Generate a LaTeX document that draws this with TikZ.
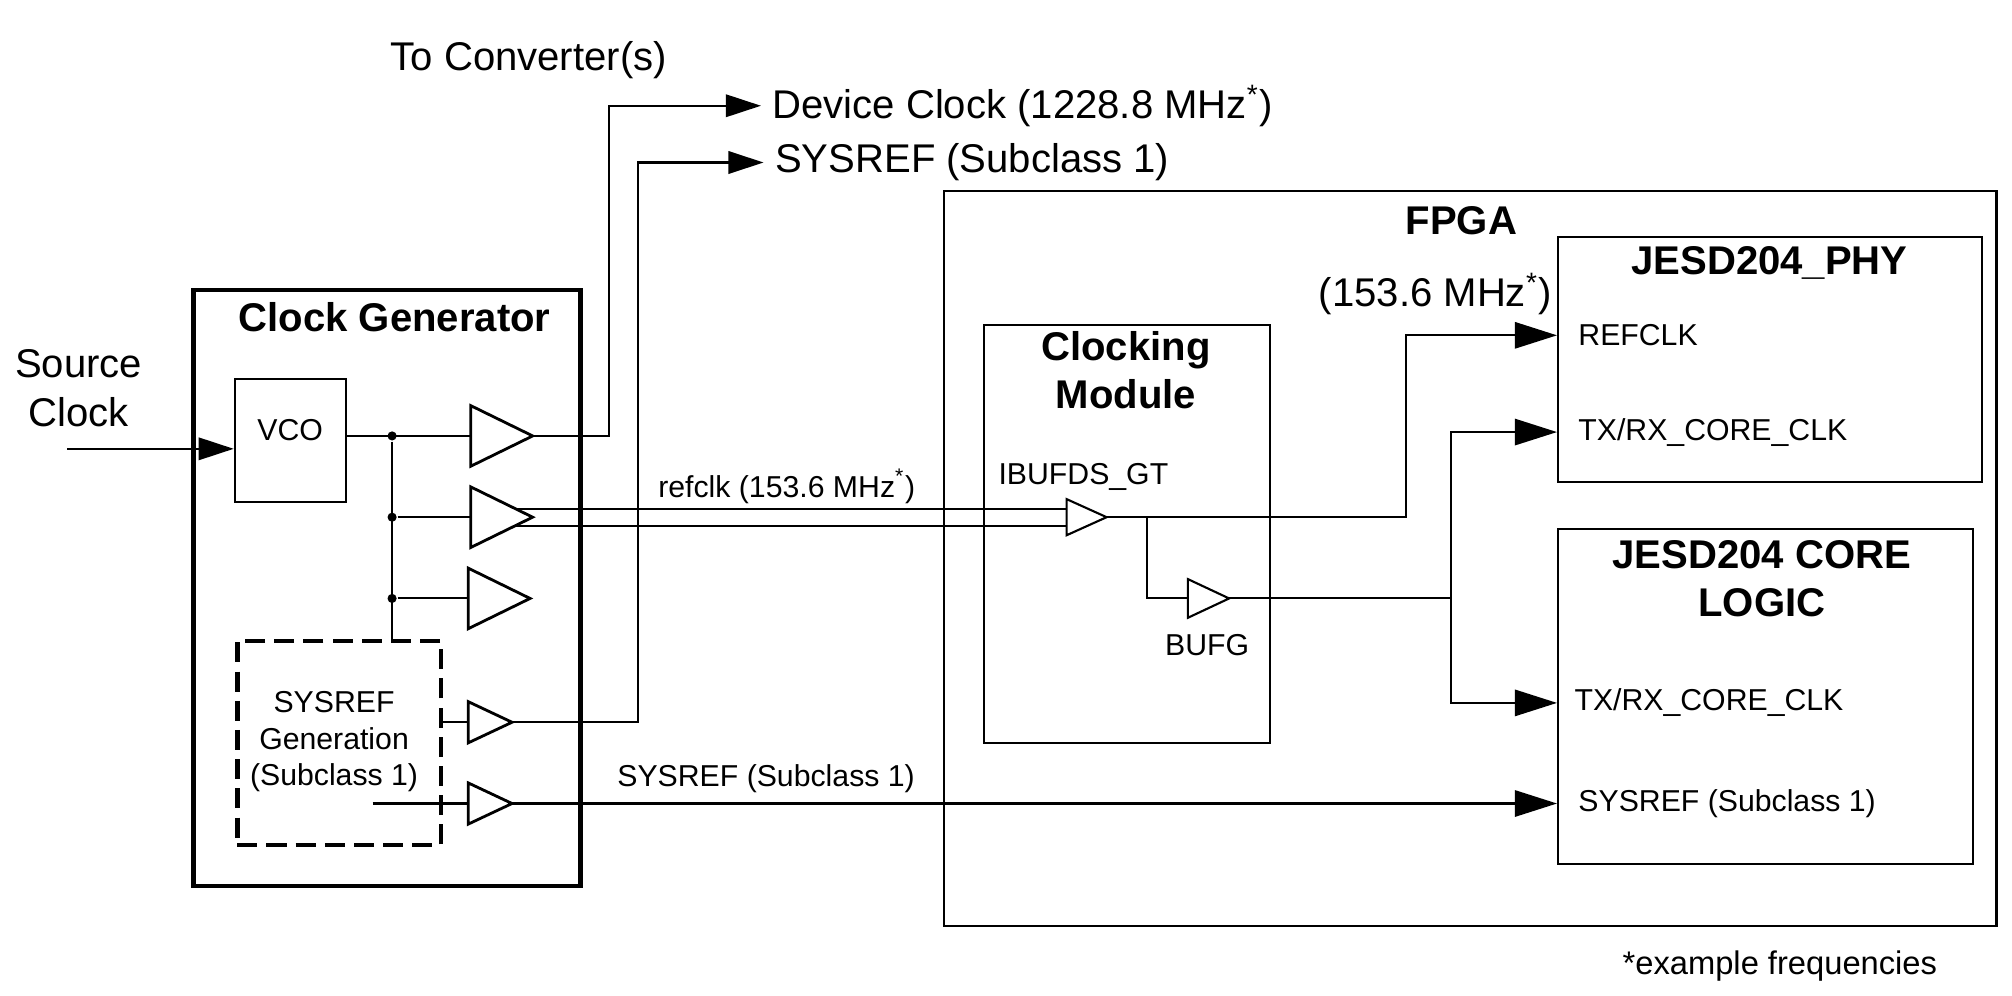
\documentclass[tikz,border=0pt]{standalone}
\usepackage{fontspec}
\setmainfont{Liberation Sans}
\usetikzlibrary{arrows.meta,calc,fit}
\tikzset{
  box/.style={draw, line width=0.6pt, inner sep=0pt},
  big/.style={font=\fontsize{11.4}{13.7}\selectfont},
  small/.style={font=\fontsize{8.6}{10.5}\selectfont},
  title/.style={font=\fontsize{11.4}{13.7}\selectfont\bfseries},
  arr/.style={-{Triangle[length=10pt,width=6.4pt]}},
  bigarr/.style={-{Triangle[length=12pt,width=7.5pt]}},
  dot/.style={circle, fill, inner sep=0pt, minimum size=2.6pt},
  pics/buf/.style 2 args={code={
    \draw (0,-#2) -- (#1,0) -- (0,#2) -- cycle;
    \coordinate (-in) at (0,0);
    \coordinate (-out) at (#1,0);
  }},
}
\begin{document}
\begin{tikzpicture}[x=0.012897cm, y=-0.012897cm, line width=0.6pt]
\useasboundingbox (0,0) rectangle (1560,772);
% clock generator
\node[box, line width=1.3pt, fit={(150,225) (450,687)}] (cg) {};
\node[title] at (306,246) {Clock Generator};
\node[box, small, fit={(182,294) (268,389)}] (vco) {VCO};
\node[box, line width=1.3pt, dash pattern=on 5.7pt off 2.6pt, fit={(184,497) (342,655)}] (sg) {};
\node[small, align=center] at (259,575) {SYSREF\\Generation\\(Subclass 1)};
\pic[line width=0.8pt] (b1) at (365,338) {buf={48}{23.5}};
\pic[line width=0.8pt] (b2) at (365,401) {buf={48}{23.5}};
\pic[line width=0.8pt] (b3) at (363,464) {buf={48}{23.5}};
\pic[line width=0.8pt] (b4) at (363,560) {buf={34}{16}};
\pic[line width=0.8pt] (b5) at (363,623) {buf={34}{16}};
\node[dot] (j1) at (304,338) {};
\node[dot] (j2) at (304,401) {};
\node[dot] (j3) at (304,464) {};
\draw (j1 -| vco.east) -- (b1-in);
\draw (j1) -- (j1 |- sg.north);
\draw (j2) -- (b2-in);
\draw (j3) -- (b3-in);
\draw (sg.east |- b4-in) -- (b4-in);
\coordinate (sgout) at (289,623);
\draw (sgout) -- (b5-in);
% source clock
\node[big, align=center] (src) at (61,301) {Source\\Clock};
\coordinate (srcin) at (52,348);
\draw[arr] (srcin) -- (srcin -| vco.west);
% to converters
\node[big] at (410,47) {To Converter(s)};
\node[big, anchor=west, inner xsep=3pt] (devclk) at (590,82) {Device Clock (1228.8 MHz\textsuperscript{*})};
\node[big, anchor=west, inner xsep=3pt] (sysout) at (592,126) {SYSREF (Subclass 1)};
\draw[arr] (b1-out) -| (472,82) -- (devclk.west);
\draw[arr] (b4-out) -| (495,126) -- (sysout.west);
% FPGA
\node[box, fit={(732,148) (1548,718)}] (fpga) {};
\node[title] at (1133,171) {FPGA};
\node[box, fit={(763,252) (985,576)}] (cm) {};
\node[title, align=center] at (873,287) {Clocking\\Module};
\node[box, fit={(1208,184) (1537,374)}] (phy) {};
\node[title] at (1372,204) {JESD204\_PHY};
\node[box, fit={(1208,410) (1530,670)}] (core) {};
\node[title, align=center] at (1366,449) {JESD204 CORE\\LOGIC};
\pic (ibuf) at (827,401) {buf={31}{14}};
\pic (bufg) at (921,464) {buf={32}{15}};
\node[small] at (840,370) {IBUFDS\_GT};
\node[small] at (936,500) {BUFG};
\node[big] at (1113,228) {(153.6 MHz\textsuperscript{*})};
\node[small, anchor=west, inner sep=0pt] (refin) at (1223,260) {REFCLK};
\node[small, anchor=west, inner sep=0pt] (txrx1) at (1223,335) {TX/RX\_CORE\_CLK};
\node[small, anchor=west, inner sep=0pt] (txrx2) at (1220,545) {TX/RX\_CORE\_CLK};
\node[small, anchor=west, inner sep=0pt] (sysin) at (1223,623) {SYSREF (Subclass 1)};
% refclk pair
\draw ($(b2-out)+(-13.3,-6.5)$) -- ($(ibuf-in)+(0,-6.5)$);
\draw ($(b2-out)+(-13.3,6.5)$) -- ($(ibuf-in)+(0,6.5)$);
\node[small] at (610,377) {refclk (153.6 MHz\textsuperscript{*})};
\draw[bigarr] (ibuf-out) -| (1090,260) -- (phy.west |- refin);
\coordinate (br) at (889,401);
\draw (br) |- (bufg-in);
\coordinate (tj) at (1125,464);
\draw (bufg-out) -- (tj);
\draw[bigarr] (tj) |- (phy.west |- txrx1);
\draw[bigarr] (tj) |- (core.west |- txrx2);
% sysref to core
\draw[bigarr] (b5-out) -- (core.west |- sysin);
\node[small] at (594,604) {SYSREF (Subclass 1)};
\node[font=\fontsize{9.3}{11}\selectfont] at (1380,749) {*example frequencies};
\end{tikzpicture}
\end{document}
